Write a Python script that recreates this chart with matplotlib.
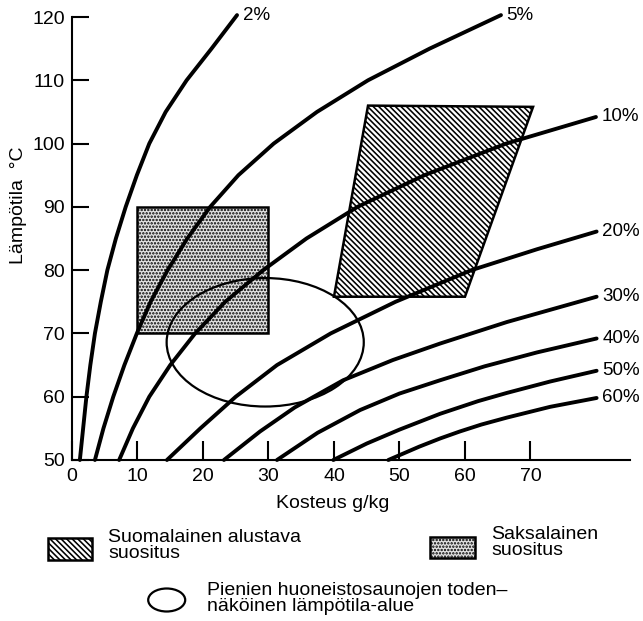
import matplotlib
matplotlib.use('Agg')
import matplotlib.pyplot as plt
from matplotlib.patches import Polygon, Rectangle, Ellipse

plt.rcParams['font.family'] = ['Liberation Sans', 'DejaVu Sans']
plt.rcParams['hatch.linewidth'] = 1.15

# ----------------------------
# Relative humidity curves (x = kosteus g/kg, y = lampotila C)
# ----------------------------
rh_labels = ['2%', '5%', '10%', '20%', '30%', '40%', '50%', '60%']

rh2_x = [1.2, 1.7, 2.2, 2.8, 3.5, 4.4, 5.4, 6.7, 8.2, 9.9, 11.8, 14.3, 17.5, 21.3, 25.2]
rh2_y = [50, 55, 60, 65, 70, 75, 80, 85, 90, 95, 100, 105, 110, 115, 120.3]

rh5_x = [3.5, 4.8, 6.3, 8.0, 9.9, 12.0, 14.6, 17.6, 21.1, 25.4, 30.8, 37.4, 45.2, 54.6, 65.5]
rh5_y = [50, 55, 60, 65, 70, 75, 80, 85, 90, 95, 100, 105, 110, 115, 120.3]

rh10_x = [7.2, 9.3, 11.8, 15.0, 18.8, 23.4, 29.2, 35.8, 43.6, 53.8, 66.3, 80.0]
rh10_y = [50, 55, 60, 65, 70, 75, 80, 85, 90, 95, 100, 104.2]

rh20_x = [14.5, 19.6, 25.0, 31.3, 39.5, 49.4, 61.0, 71.0, 80.1]
rh20_y = [50, 55, 60, 65, 70, 75, 80, 83.3, 86.1]

rh30_x = [23.2, 28.7, 34.0, 41.4, 49.0, 56.2, 66.4, 80.1]
rh30_y = [50, 54.5, 58.3, 62.6, 65.8, 68.4, 71.8, 75.8]

rh40_x = [31.3, 37.5, 44.0, 50.0, 56.2, 63.0, 71.0, 80.1]
rh40_y = [50, 54.3, 57.9, 60.5, 62.6, 64.8, 67.0, 69.2]

rh50_x = [39.9, 45.0, 50.0, 56.2, 62.0, 66.4, 73.0, 80.1]
rh50_y = [50, 52.6, 54.8, 57.3, 59.3, 60.6, 62.4, 64.1]

rh60_x = [48.3, 53.0, 56.2, 59.2, 62.5, 66.4, 73.0, 80.1]
rh60_y = [50, 52.1, 53.4, 54.5, 55.6, 56.7, 58.4, 59.8]

curves_x = [rh2_x, rh5_x, rh10_x, rh20_x, rh30_x, rh40_x, rh50_x, rh60_x]
curves_y = [rh2_y, rh5_y, rh10_y, rh20_y, rh30_y, rh40_y, rh50_y, rh60_y]

# Recommendation areas
suomi_x = [40.0, 60.0, 70.4, 45.2]
suomi_y = [75.8, 75.8, 105.8, 106.0]
saksa_x = [10, 30]
saksa_y = [70, 90]
sauna_center = (29.5, 68.6)
sauna_width = 30.1
sauna_height = 20.3

xticks = [0, 10, 20, 30, 40, 50, 60, 70]
yticks = [50, 60, 70, 80, 90, 100, 110, 120]

# ----------------------------
# Plot
# ----------------------------
fig = plt.figure(figsize=(6.43, 6.21), dpi=100)
ax = fig.add_axes([72/643, 161/621, 558/643, 443/621])
ax.set_xlim(0, 85.2)
ax.set_ylim(50, 120)

ax.add_patch(Polygon(list(zip(suomi_x, suomi_y)), closed=True, facecolor='white',
                     edgecolor='black', hatch='\\' * 6, linewidth=1.8, zorder=2))
ax.add_patch(Rectangle((saksa_x[0], saksa_y[0]), saksa_x[1] - saksa_x[0], saksa_y[1] - saksa_y[0],
                       facecolor='#e2e2e2', edgecolor='black', hatch='.....', linewidth=1.8, zorder=2))
ax.add_patch(Ellipse(sauna_center, sauna_width, sauna_height, facecolor='none',
                     edgecolor='black', linewidth=1.6, zorder=4))

for cx, cy, lab in zip(curves_x, curves_y, rh_labels):
    ax.plot(cx, cy, color='black', linewidth=2.8, clip_on=False, zorder=3,
            solid_capstyle='round', solid_joinstyle='round')
    ax.annotate(lab, (cx[-1], cy[-1]), xytext=(4, 0), textcoords='offset points',
                ha='left', va='center', fontsize=13.5, annotation_clip=False)

ax.spines['top'].set_visible(False)
ax.spines['right'].set_visible(False)
ax.spines['left'].set_linewidth(1.5)
ax.spines['bottom'].set_linewidth(1.5)

ax.set_xticks(xticks)
ax.set_yticks(yticks)
ax.tick_params(axis='x', direction='in', length=14, width=1.5, labelsize=14, pad=6)
ax.tick_params(axis='y', direction='in', length=12, width=1.5, labelsize=14, pad=5)

fig.text(333/643, 1 - 503/621, 'Kosteus g/kg', ha='center', va='center', fontsize=14)
fig.text(19/643, 1 - 205/621, 'Lämpötila  °C', ha='center', va='center',
         rotation=90, fontsize=14)

# ----------------------------
# Legend below the chart
# ----------------------------
fig.add_artist(Rectangle((48/643, 1 - 560/621), 44/643, 22/621, transform=fig.transFigure,
                         facecolor='white', edgecolor='black', hatch='\\' * 6, linewidth=1.8))
fig.text(108/643, 1 - 529/621, 'Suomalainen alustava\nsuositus', ha='left', va='top',
         fontsize=14, linespacing=0.95)

fig.add_artist(Rectangle((430/643, 1 - 558/621), 45/643, 21/621, transform=fig.transFigure,
                         facecolor='#e2e2e2', edgecolor='black', hatch='.....', linewidth=1.8))
fig.text(491/643, 1 - 526/621, 'Saksalainen\nsuositus', ha='left', va='top',
         fontsize=14, linespacing=0.95)

fig.add_artist(Ellipse((166.7/643, 1 - 600/621), 37/643, 23/621, transform=fig.transFigure,
                       facecolor='none', edgecolor='black', linewidth=1.6))
fig.text(207/643, 1 - 582/621, 'Pienien huoneistosaunojen toden–\nnäköinen lämpötila-alue',
         ha='left', va='top', fontsize=14, linespacing=0.95)

fig.savefig('out.png', dpi=100)
